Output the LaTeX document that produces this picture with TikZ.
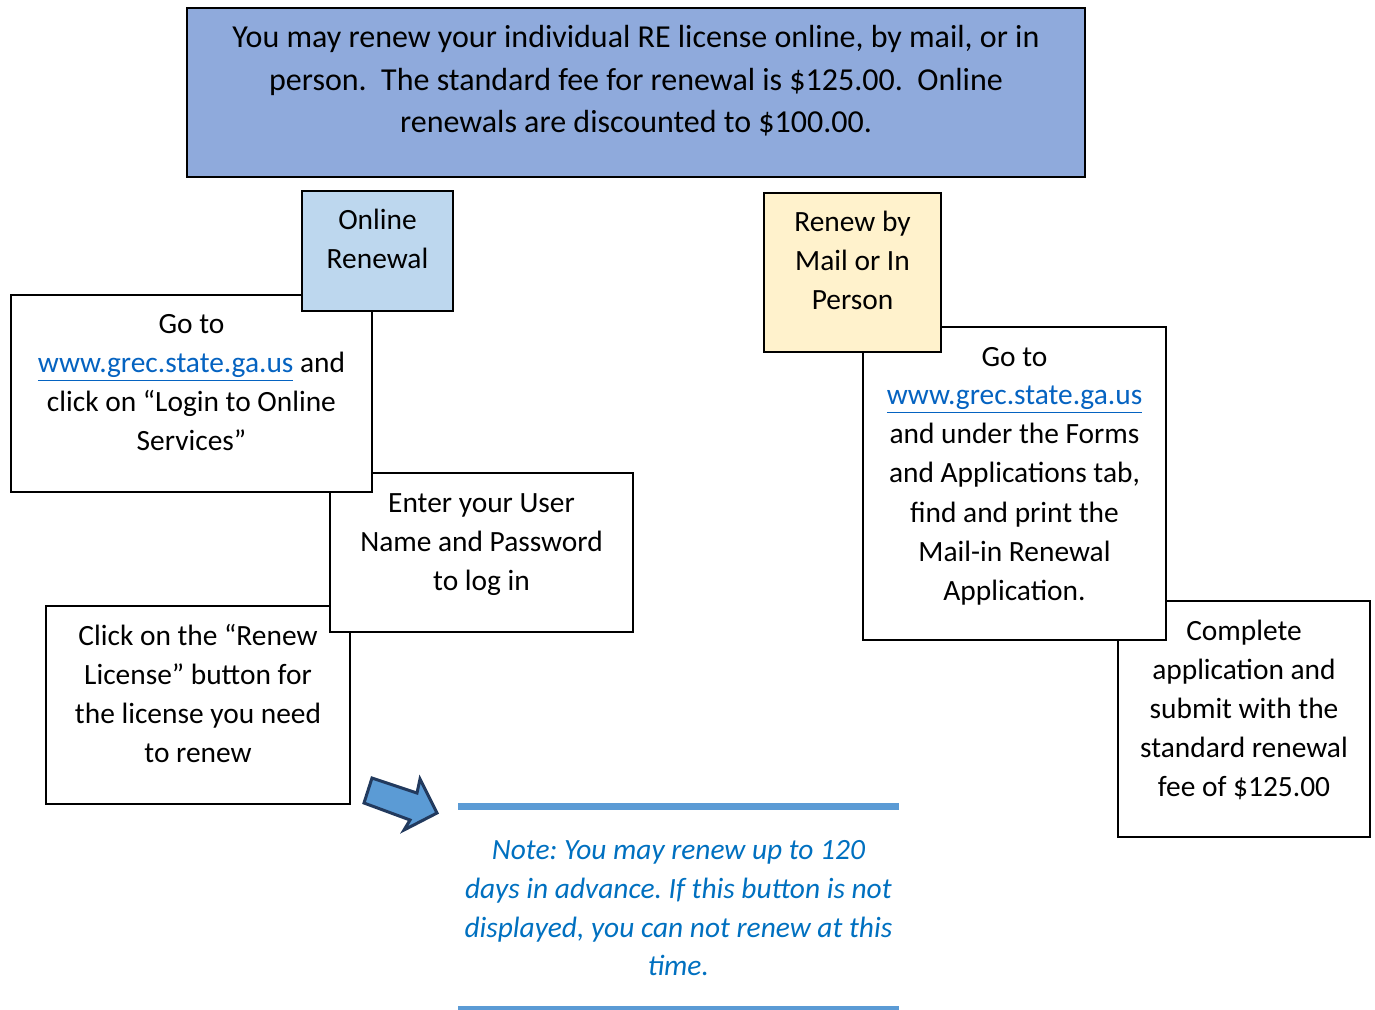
\documentclass[tikz,border=0pt]{standalone}
\usepackage{fontspec}
\setmainfont{Carlito}
\usepackage{tikz}
\definecolor{headblue}{HTML}{8FAADC}
\definecolor{onlineblue}{HTML}{BDD7EE}
\definecolor{mailyellow}{HTML}{FFF2CC}
\definecolor{arrowblue}{HTML}{5B9BD5}
\definecolor{arrowedge}{HTML}{223A5E}
\definecolor{noteblue}{HTML}{0070C0}
\definecolor{linkblue}{HTML}{0563C1}
\frenchspacing
\newcommand{\boxtext}[4][19.5pt]{\parbox[t][#3][t]{#2}{\centering\rule{0pt}{#1}#4\par}}
\newcommand{\weblink}[1]{\textcolor{linkblue}{\underline{#1}}}
\tikzset{
    stepbox/.style={rectangle,draw=black,line width=1pt,fill=white,inner sep=0pt,anchor=north west,font=\fontsize{14.7}{19.5}\selectfont},
    headbox/.style={stepbox,fill=headblue,font=\fontsize{16}{21.25}\selectfont},
    notetext/.style={inner sep=0pt,anchor=north west,text=noteblue,font=\fontsize{14.7}{19.4}\selectfont\itshape},
    noteline/.style={draw=arrowblue,line width=3.5pt},
}
\usetikzlibrary{positioning}

\begin{document}
\begin{tikzpicture}[x=0.5pt,y=-0.5pt]
\useasboundingbox (0,0) rectangle (1375,1010);
% header
\node[headbox] (head) at (186,7) {\boxtext[20pt]{449pt}{84.5pt}{You may renew your individual RE license online, by mail, or in\\ person.\ \ The standard fee for renewal is \$125.00.\ \ Online\\ renewals are discounted to \$100.00.}};
% online steps
\node[stepbox] (click) at (45,605) {\boxtext{152pt}{99pt}{Click on the “Renew\\ License” button for\\ the license you need\\ to renew}};
\node[stepbox] (login) at (329,472) {\boxtext{151.5pt}{79.5pt}{Enter your User\\ Name and Password\\ to log in}};
\node[stepbox] (gotoL) at (10,294) {\boxtext{180.5pt}{98.5pt}{Go to\\ \weblink{www.grec.state.ga.us} and\\ click on “Login to Online\\ Services”}};
\node[stepbox,fill=onlineblue] (online) at (301,190) {\boxtext{75.5pt}{60pt}{Online\\ Renewal}};
% mail steps
\node[stepbox] (complete) at (1117,600) {\boxtext{126pt}{118pt}{Complete\\ application and\\ submit with the\\ standard renewal\\ fee of \$125.00}};
\node[stepbox] (gotoR) at (862,326) {\boxtext{151.5pt}{156.5pt}{Go to\\ \weblink{www.grec.state.ga.us}\\ and under the Forms\\ and Applications tab,\\ find and print the\\ Mail-in Renewal\\ Application.}};
\node[stepbox,fill=mailyellow] (mail) at (763,192) {\boxtext{88.5pt}{79.5pt}{Renew by\\ Mail or In\\ Person}};
% note
\node[notetext] (note) at (458,806) {\boxtext[26.5pt]{220pt}{101pt}{Note: You may renew up to 120\\ days in advance. If this button is not\\ displayed, you can not renew at this\\ time.}};
\draw[noteline] (note.north west) -- (note.north east);
\draw[noteline] ([yshift=-0.5pt]note.south west) -- ([yshift=-0.5pt]note.south east);
% block arrow
\draw[fill=arrowblue,draw=arrowedge,line width=1.5pt,line join=miter] (372,778) -- (417,793) -- (420,779) -- (437,813) -- (404,830) -- (410,820) -- (364,803) -- cycle;
\end{tikzpicture}
\end{document}
